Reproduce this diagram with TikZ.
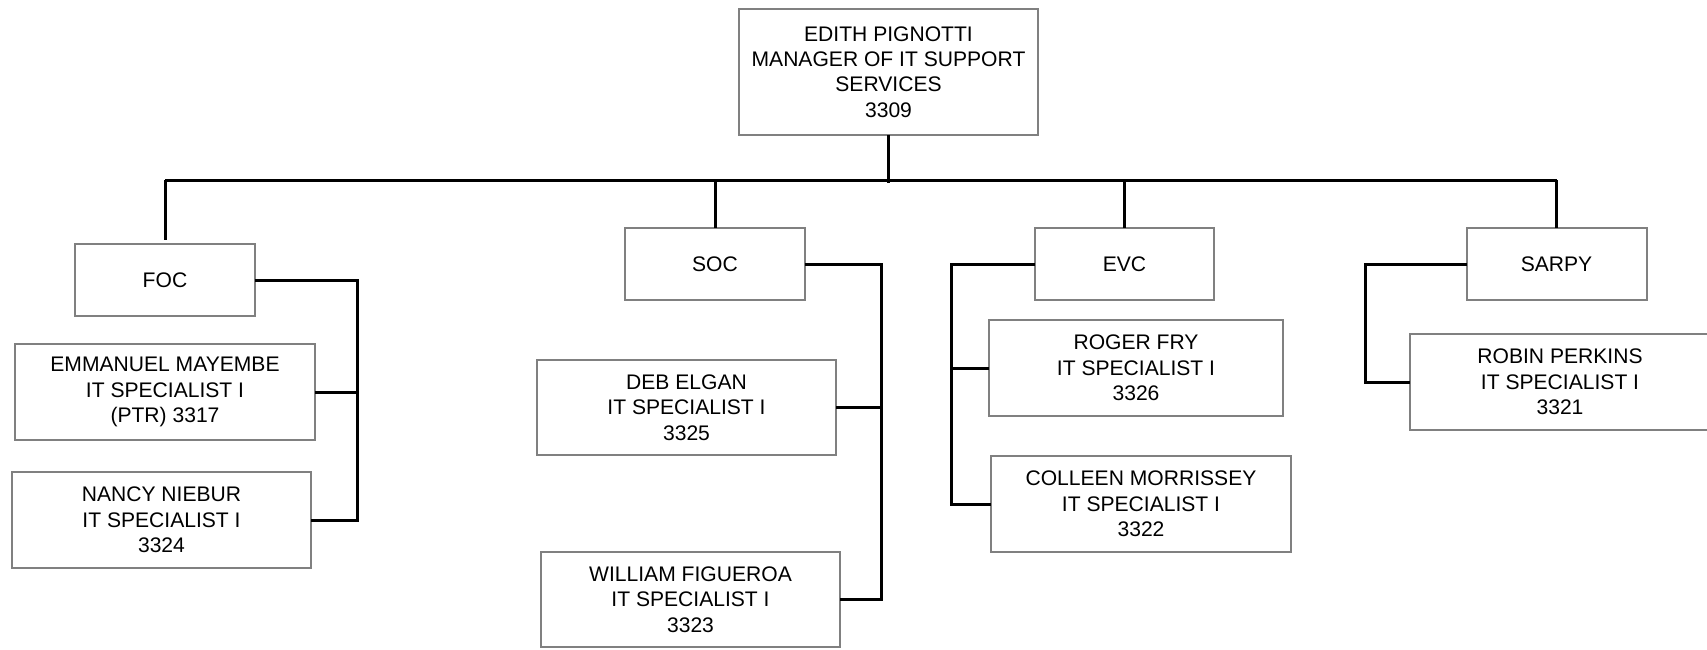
\documentclass[tikz,border=0pt]{standalone}
\usepackage{fontspec}
\setmainfont{Liberation Sans}
\begin{document}
\begin{tikzpicture}
  [x=0.02cm,y=-0.02cm,
   unit/.style={rectangle,draw=gray,line width=0.04cm,align=center,
                inner sep=0,outer sep=0,minimum width=3.6cm,minimum height=1.44cm,
                font=\fontsize{12}{14.4}\selectfont},
   person/.style={unit,minimum width=6cm,minimum height=1.92cm},
   conn/.style={draw=black,line width=0.06cm}]
  \useasboundingbox (0,0) rectangle (1707,649);
  % manager and units
  \node[unit,minimum width=6cm,minimum height=2.52cm] (mgr) at (888.5,72)
    {EDITH PIGNOTTI\\MANAGER OF IT SUPPORT\\SERVICES\\3309};
  \node[unit] (foc) at (165,280) {FOC};
  \node[unit] (soc) at (715,264) {SOC};
  \node[unit] (evc) at (1124.5,264) {EVC};
  \node[unit] (sarpy) at (1556.5,264) {SARPY};
  % staff
  \node[person] (foc1) at (165,392) {EMMANUEL MAYEMBE\\IT SPECIALIST I\\(PTR) 3317};
  \node[person] (foc2) at (161.5,520) {NANCY NIEBUR\\IT SPECIALIST I\\3324};
  \node[person] (soc1) at (686.5,407.5) {DEB ELGAN\\IT SPECIALIST I\\3325};
  \node[person,minimum height=1.9cm] (soc2) at (690.5,599.5) {WILLIAM FIGUEROA\\IT SPECIALIST I\\3323};
  \node[person,minimum width=5.88cm] (evc1) at (1136,368) {ROGER FRY\\IT SPECIALIST I\\3326};
  \node[person] (evc2) at (1141,504) {COLLEEN MORRISSEY\\IT SPECIALIST I\\3322};
  \node[person] (sarpy1) at (1560,382) {ROBIN PERKINS\\IT SPECIALIST I\\3321};
  % rails
  \coordinate (bus) at (0,180);
  \coordinate (busend) at (0,183);
  \coordinate (focrail) at (357,0);
  \coordinate (socrail) at (881,0);
  \coordinate (evcrail) at (951,0);
  \coordinate (sarpyrail) at (1365,0);
  % connectors
  \draw[conn] (mgr.south) -- (mgr.south |- busend);
  \draw[conn] (foc.north |- bus) -- (sarpy.north |- bus);
  \draw[conn,shorten >=0.8mm] (foc.north |- bus) -- (foc.north);
  \draw[conn] (soc.north |- bus) -- (soc.north);
  \draw[conn] (evc.north |- bus) -- (evc.north);
  \draw[conn] (sarpy.north |- bus) -- (sarpy.north);
  \draw[conn] (foc.east) -| (foc2.east -| focrail) -- (foc2.east);
  \draw[conn] (foc1.east -| focrail) -- (foc1.east);
  \draw[conn] (soc.east) -| (soc2.east -| socrail) -- (soc2.east);
  \draw[conn] (soc1.east -| socrail) -- (soc1.east);
  \draw[conn] (evc.west) -| (evc2.west -| evcrail) -- (evc2.west);
  \draw[conn] (evc1.west -| evcrail) -- (evc1.west);
  \draw[conn] (sarpy.west) -| (sarpy1.west -| sarpyrail) -- (sarpy1.west);
\end{tikzpicture}
\end{document}
